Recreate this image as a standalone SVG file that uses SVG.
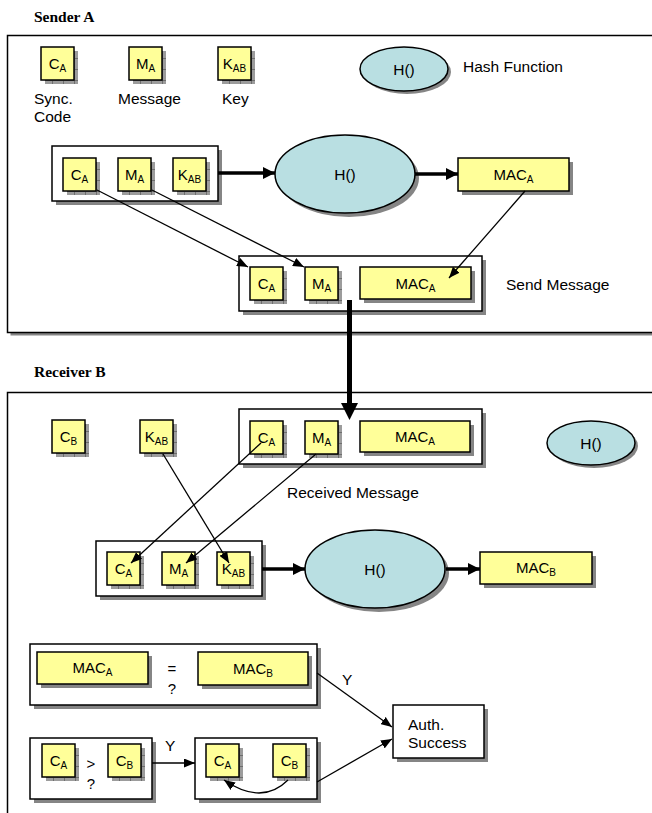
<svg xmlns="http://www.w3.org/2000/svg" xmlns:xlink="http://www.w3.org/1999/xlink" width="652" height="813" viewBox="0 0 652 813">
<style>
.t{font-family:"Liberation Sans",Arial,sans-serif;font-size:15.5px;fill:#000}
.bt{font-family:"Liberation Sans",Arial,sans-serif;font-size:15px;fill:#000;text-anchor:middle}
.sub{font-size:10px}
.ttl{font-family:"Liberation Serif","Times New Roman",serif;font-size:15.5px;font-weight:bold;fill:#000}
.y{fill:#FFFF99;stroke:#000;stroke-width:1.5}
.grp{fill:#fff;stroke:#000;stroke-width:1.5}
.sh{fill:#858585}
.ell{fill:#B9DFE2;stroke:#000;stroke-width:1.5}
.frame{fill:#fff;stroke:#000;stroke-width:1.5}
.thin{stroke:#000;stroke-width:1.3;fill:none}
.thick{stroke:#000;stroke-width:3.5;fill:none}
</style>
<defs>
<pattern id="grid" patternUnits="userSpaceOnUse" width="11" height="11">
<rect width="11" height="11" fill="#9c9c9c"/>
<path d="M0 0.5H11M0.5 0V11" stroke="#6e6e6e" stroke-width="1"/>
</pattern>
<g id="sb">
<rect x="4" y="4" width="33" height="33" fill="url(#grid)"/>
<rect x="0" y="0" width="33" height="33" class="y"/>
</g>
<marker id="ah" markerUnits="userSpaceOnUse" markerWidth="11" markerHeight="9" refX="11" refY="4.5" orient="auto">
<path d="M0,0 L11,4.5 L0,9 z" fill="#000"/>
</marker>
<marker id="ahT" markerUnits="userSpaceOnUse" markerWidth="12" markerHeight="12" refX="12" refY="6" orient="auto">
<path d="M0,0 L12,6 L0,12 z" fill="#000"/>
</marker>
</defs>
<rect width="652" height="813" fill="#fff"/>

<g id="sender-frame">
<rect x="10.5" y="38.5" width="700" height="297" class="sh"/>
<rect x="7.5" y="35.5" width="700" height="297" class="frame"/>
<text x="34" y="22" class="ttl">Sender A</text>
</g>

<g id="receiver-frame">
<rect x="7.5" y="392.5" width="700" height="450" class="frame"/>
<text x="34" y="377" class="ttl">Receiver B</text>
</g>

<g id="legend-ca"><use xlink:href="#sb" x="41" y="47"/><text x="57.5" y="69" class="bt">C<tspan class="sub" dy="3">A</tspan></text><text x="34" y="104" class="t">Sync.</text><text x="34" y="122" class="t">Code</text></g>
<g id="legend-ma"><use xlink:href="#sb" x="129" y="47"/><text x="145.5" y="69" class="bt">M<tspan class="sub" dy="3">A</tspan></text><text x="118" y="104" class="t">Message</text></g>
<g id="legend-kab"><use xlink:href="#sb" x="218" y="47"/><text x="234.5" y="69" class="bt">K<tspan class="sub" dy="3">AB</tspan></text><text x="222" y="104" class="t">Key</text></g>
<g id="legend-h">
<ellipse cx="407" cy="72" rx="44" ry="22" class="sh"/>
<ellipse cx="404" cy="69" rx="44" ry="22" class="ell"/>
<text x="404" y="75" class="t" text-anchor="middle">H()</text>
<text x="463" y="72" class="t">Hash Function</text>
</g>

<g id="s-input">
<rect x="56" y="150" width="166" height="55" class="sh"/>
<rect x="52" y="146" width="166" height="55" class="grp"/>
<use xlink:href="#sb" x="63" y="158"/><text x="79.5" y="180" class="bt">C<tspan class="sub" dy="3">A</tspan></text>
<use xlink:href="#sb" x="118" y="158"/><text x="134.5" y="180" class="bt">M<tspan class="sub" dy="3">A</tspan></text>
<use xlink:href="#sb" x="173" y="158"/><text x="189.5" y="180" class="bt">K<tspan class="sub" dy="3">AB</tspan></text>
</g>

<g id="s-hash">
<ellipse cx="349" cy="178" rx="70" ry="39" class="sh"/>
<ellipse cx="345" cy="174" rx="70" ry="39" class="ell"/>
<text x="345" y="180" class="t" text-anchor="middle">H()</text>
</g>

<g id="s-mac">
<rect x="462" y="162" width="111" height="33" class="sh"/>
<rect x="458" y="158" width="111" height="33" class="y"/>
<text x="513.5" y="180" class="bt">MAC<tspan class="sub" dy="3">A</tspan></text>
</g>

<g id="s-send">
<rect x="243" y="260" width="243" height="55" class="sh"/>
<rect x="239" y="256" width="243" height="55" class="grp"/>
<use xlink:href="#sb" x="250" y="267"/><text x="266.5" y="289" class="bt">C<tspan class="sub" dy="3">A</tspan></text>
<use xlink:href="#sb" x="305" y="267"/><text x="321.5" y="289" class="bt">M<tspan class="sub" dy="3">A</tspan></text>
<rect x="364" y="271" width="111" height="32" class="sh"/>
<rect x="360" y="267" width="111" height="32" class="y"/>
<text x="415.5" y="289" class="bt">MAC<tspan class="sub" dy="3">A</tspan></text>
<text x="506" y="290" class="t">Send Message</text>
</g>

<g id="r-cb"><use xlink:href="#sb" x="52" y="420"/><text x="68.5" y="442" class="bt">C<tspan class="sub" dy="3">B</tspan></text></g>
<g id="r-kab"><use xlink:href="#sb" x="140" y="420"/><text x="156.5" y="442" class="bt">K<tspan class="sub" dy="3">AB</tspan></text></g>

<g id="r-received">
<rect x="243" y="413" width="243" height="55" class="sh"/>
<rect x="239" y="409" width="243" height="55" class="grp"/>
<use xlink:href="#sb" x="250" y="421"/><text x="266.5" y="443" class="bt">C<tspan class="sub" dy="3">A</tspan></text>
<use xlink:href="#sb" x="305" y="421"/><text x="321.5" y="443" class="bt">M<tspan class="sub" dy="3">A</tspan></text>
<rect x="364" y="425" width="110" height="31" class="sh"/>
<rect x="360" y="421" width="110" height="31" class="y"/>
<text x="415" y="442" class="bt">MAC<tspan class="sub" dy="3">A</tspan></text>
<text x="287" y="498" class="t">Received Message</text>
</g>

<g id="r-legend-h">
<ellipse cx="594" cy="446" rx="44" ry="22" class="sh"/>
<ellipse cx="591" cy="443" rx="44" ry="22" class="ell"/>
<text x="591" y="449" class="t" text-anchor="middle">H()</text>
</g>

<g id="r-input">
<rect x="100" y="545" width="166" height="55" class="sh"/>
<rect x="96" y="541" width="166" height="55" class="grp"/>
<use xlink:href="#sb" x="107" y="552"/><text x="123.5" y="574" class="bt">C<tspan class="sub" dy="3">A</tspan></text>
<use xlink:href="#sb" x="162" y="552"/><text x="178.5" y="574" class="bt">M<tspan class="sub" dy="3">A</tspan></text>
<use xlink:href="#sb" x="217" y="552"/><text x="233.5" y="574" class="bt">K<tspan class="sub" dy="3">AB</tspan></text>
</g>

<g id="r-hash">
<ellipse cx="379" cy="573" rx="70" ry="39" class="sh"/>
<ellipse cx="375" cy="569" rx="70" ry="39" class="ell"/>
<text x="375" y="575" class="t" text-anchor="middle">H()</text>
</g>

<g id="r-macb">
<rect x="484" y="556" width="112" height="32" class="sh"/>
<rect x="480" y="552" width="112" height="32" class="y"/>
<text x="536" y="573" class="bt">MAC<tspan class="sub" dy="3">B</tspan></text>
</g>

<g id="cmp-mac">
<rect x="34" y="648" width="287" height="61" class="sh"/>
<rect x="30" y="644" width="287" height="61" class="grp"/>
<rect x="41" y="656" width="111" height="32" class="sh"/>
<rect x="37" y="652" width="111" height="32" class="y"/>
<text x="92.5" y="673" class="bt">MAC<tspan class="sub" dy="3">A</tspan></text>
<text x="172" y="674" class="bt">=</text>
<text x="172" y="694" class="bt">?</text>
<rect x="202" y="656" width="110" height="33" class="sh"/>
<rect x="198" y="652" width="110" height="33" class="y"/>
<text x="253" y="674" class="bt">MAC<tspan class="sub" dy="3">B</tspan></text>
</g>

<g id="cmp-c">
<rect x="34" y="742" width="122" height="61" class="sh"/>
<rect x="30" y="738" width="122" height="61" class="grp"/>
<use xlink:href="#sb" x="42" y="744"/><text x="58.5" y="766" class="bt">C<tspan class="sub" dy="3">A</tspan></text>
<text x="91" y="769" class="bt">&gt;</text>
<text x="91" y="789" class="bt">?</text>
<use xlink:href="#sb" x="108" y="744"/><text x="124.5" y="766" class="bt">C<tspan class="sub" dy="3">B</tspan></text>
</g>

<g id="upd-c">
<rect x="199" y="742" width="122" height="61" class="sh"/>
<rect x="195" y="738" width="122" height="61" class="grp"/>
<use xlink:href="#sb" x="206" y="744"/><text x="222.5" y="766" class="bt">C<tspan class="sub" dy="3">A</tspan></text>
<use xlink:href="#sb" x="273" y="744"/><text x="289.5" y="766" class="bt">C<tspan class="sub" dy="3">B</tspan></text>
</g>

<g id="auth">
<rect x="397" y="709" width="91" height="53" class="sh"/>
<rect x="393" y="705" width="91" height="53" class="grp"/>
<text x="408" y="730" class="t">Auth.</text>
<text x="408" y="748" class="t">Success</text>
</g>

<g id="connectors">
<line x1="218" y1="173" x2="275" y2="173" class="thick" marker-end="url(#ahT)"/>
<line x1="415" y1="174" x2="458" y2="174" class="thick" marker-end="url(#ahT)"/>
<line x1="97" y1="190" x2="248" y2="267" class="thin" marker-end="url(#ah)"/>
<line x1="152" y1="190" x2="304" y2="267" class="thin" marker-end="url(#ah)"/>
<line x1="525" y1="191" x2="449" y2="278" class="thin" marker-end="url(#ah)"/>
<line x1="349.5" y1="300" x2="349.5" y2="404" stroke="#000" stroke-width="5"/>
<path d="M341,403 L358,403 L349.5,420 z" fill="#000"/>
<line x1="262" y1="569" x2="305" y2="569" class="thick" marker-end="url(#ahT)"/>
<line x1="446" y1="569" x2="480" y2="569" class="thick" marker-end="url(#ahT)"/>
<line x1="261" y1="443" x2="131" y2="563" class="thin" marker-end="url(#ah)"/>
<line x1="316" y1="454" x2="186" y2="563" class="thin" marker-end="url(#ah)"/>
<line x1="163" y1="454" x2="229" y2="563" class="thin" marker-end="url(#ah)"/>
<line x1="317" y1="673" x2="392" y2="727" class="thin" marker-end="url(#ah)"/>
<text x="342" y="685" class="t">Y</text>
<line x1="152" y1="763" x2="195" y2="763" class="thin" marker-end="url(#ah)"/>
<text x="165" y="751" class="t">Y</text>
<line x1="317" y1="782" x2="392" y2="739" class="thin" marker-end="url(#ah)"/>
<path d="M288,780 Q262,806 224,780" class="thin" marker-end="url(#ah)"/>
</g>
</svg>
